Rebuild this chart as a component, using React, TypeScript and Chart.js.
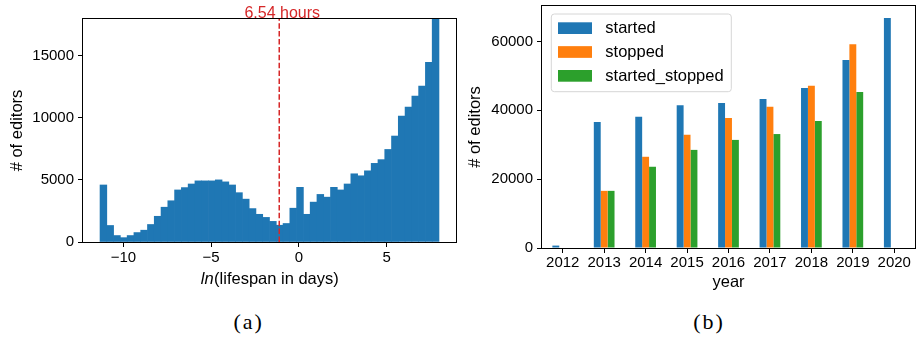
import React, { useEffect, useRef } from 'react';
import { Chart, registerables } from 'chart.js';

Chart.register(...registerables);

const FONT = '"Liberation Sans", Arial, Helvetica, sans-serif';

// ---------- Panel (a): histogram ----------
const histBinStart = -11.33;
const histBinWidth = 0.3862;
const histCounts = [
  4590, 1330, 520, 350, 520, 760, 950, 1410, 2070, 2800,
  3320, 4190, 4380, 4670, 4920, 4920, 4920, 5000, 4840, 4590,
  3970, 3450, 2690, 2230, 1980, 1660, 1350, 1490, 2720, 4400,
  2230, 3210, 3830, 3610, 4400, 4190, 4670, 5490, 5330, 5730,
  6330, 6630, 7450, 8530, 10140, 10870, 11740, 12550, 14460, 18200,
];
const histXTicks = [-10, -5, 0, 5];
const histYTicks = [0, 5000, 10000, 15000];
const histXMin = -12.3;
const histXMax = 8.95;
const histYMax = 17950;
const cutoffValue = -1.12;
const cutoffLabel = '6.54 hours';
const histYLabel = '# of editors';
const histXLabelItalic = 'ln';
const histXLabelRest = '(lifespan in days)';

// ---------- Panel (b): grouped bars ----------
const years = ['2012', '2013', '2014', '2015', '2016', '2017', '2018', '2019', '2020'];
const seriesNames = ['started', 'stopped', 'started_stopped'];
const seriesColors = ['#1f77b4', '#ff7f0e', '#2ca02c'];
const started = [700, 36600, 38100, 41500, 42100, 43300, 46500, 54600, 66800];
const stopped = [0, 16600, 26500, 32900, 37800, 41000, 47100, 59200, 0];
const startedStopped = [0, 16600, 23600, 28500, 31400, 33100, 36900, 45300, 0];
const barYTicks = [0, 20000, 40000, 60000];
const barYMax = 70300;
const barXLabel = 'year';
const barYLabel = '# of editors';

const fmtNum = (v: number) => (v < 0 ? '\u2212' + Math.abs(v) : String(v));

function axisBase(tickPad: number) {
  return {
    border: { display: false },
    grid: {
      drawOnChartArea: false,
      drawTicks: true,
      tickLength: 5,
      tickWidth: 1,
      tickColor: '#000',
      color: '#000',
      offset: false,
    },
    ticks: {
      color: '#000',
      font: { family: FONT, size: 15 },
      padding: tickPad,
      maxRotation: 0,
      minRotation: 0,
      autoSkip: false,
    },
  };
}

function zeroPad(s: any) {
  s.paddingTop = 0;
  s.paddingBottom = 0;
  s.paddingLeft = 0;
  s.paddingRight = 0;
}

const framePlugin = {
  id: 'frameBox',
  afterDatasetsDraw(chart: any) {
    const { ctx, chartArea: a } = chart;
    ctx.save();
    ctx.strokeStyle = '#000';
    ctx.lineWidth = 1;
    const l = Math.round(a.left) - 0.5;
    const t = Math.round(a.top) - 0.5;
    const r = Math.round(a.right) + 0.5;
    const b = Math.round(a.bottom) + 0.5;
    ctx.strokeRect(l, t, r - l, b - t);
    ctx.restore();
  },
};

function makeTitlesPlugin(yText: string, yX: number, drawX: (ctx: CanvasRenderingContext2D, cx: number) => void) {
  return {
    id: 'titles',
    afterDraw(chart: any) {
      const { ctx, chartArea: a } = chart;
      ctx.save();
      ctx.fillStyle = '#000';
      ctx.font = `16.5px ${FONT}`;
      ctx.textAlign = 'center';
      ctx.textBaseline = 'middle';
      ctx.translate(yX, (a.top + a.bottom) / 2);
      ctx.rotate(-Math.PI / 2);
      ctx.fillText(yText, 0, 0);
      ctx.restore();
      ctx.save();
      ctx.fillStyle = '#000';
      drawX(ctx, (a.left + a.right) / 2);
      ctx.restore();
    },
  };
}

const cutoffPlugin = {
  id: 'cutoff',
  afterDatasetsDraw(chart: any) {
    const { ctx, chartArea: a } = chart;
    const x = chart.scales.x.getPixelForValue(cutoffValue);
    ctx.save();
    ctx.strokeStyle = '#d62728';
    ctx.lineWidth = 1.5;
    ctx.setLineDash([5.5, 2.4]);
    ctx.beginPath();
    ctx.moveTo(x, a.bottom);
    ctx.lineTo(x, a.top);
    ctx.stroke();
    ctx.setLineDash([]);
    ctx.fillStyle = '#d62728';
    ctx.font = `16px ${FONT}`;
    ctx.textAlign = 'center';
    ctx.textBaseline = 'alphabetic';
    ctx.fillText(cutoffLabel, x + 3, a.top - 0.8);
    ctx.restore();
  },
};

const legendPlugin = {
  id: 'legendBox',
  afterDraw(chart: any) {
    const { ctx, chartArea: a } = chart;
    const x0 = a.left + 9.3;
    const y0 = a.top + 8;
    const w = 180;
    const h = 77.7;
    const r = 3;
    ctx.save();
    ctx.beginPath();
    ctx.moveTo(x0 + r, y0);
    ctx.lineTo(x0 + w - r, y0);
    ctx.arcTo(x0 + w, y0, x0 + w, y0 + r, r);
    ctx.lineTo(x0 + w, y0 + h - r);
    ctx.arcTo(x0 + w, y0 + h, x0 + w - r, y0 + h, r);
    ctx.lineTo(x0 + r, y0 + h);
    ctx.arcTo(x0, y0 + h, x0, y0 + h - r, r);
    ctx.lineTo(x0, y0 + r);
    ctx.arcTo(x0, y0, x0 + r, y0, r);
    ctx.closePath();
    ctx.fillStyle = 'rgba(255,255,255,0.8)';
    ctx.fill();
    ctx.strokeStyle = '#d6d6d6';
    ctx.lineWidth = 1;
    ctx.stroke();
    ctx.font = `16.5px ${FONT}`;
    ctx.textAlign = 'left';
    ctx.textBaseline = 'middle';
    chart.data.datasets.forEach((ds: any, i: number) => {
      const py = y0 + 8.3 + i * 23.85;
      ctx.fillStyle = ds.backgroundColor;
      ctx.fillRect(x0 + 6.7, py, 34, 11.7);
      ctx.fillStyle = '#000';
      ctx.fillText(ds.label, x0 + 54, py + 6.6);
    });
    ctx.restore();
  },
};

export default function App() {
  const refA = useRef<HTMLCanvasElement | null>(null);
  const refB = useRef<HTMLCanvasElement | null>(null);

  useEffect(() => {
    if (!refA.current || !refB.current) return;

    const histData = histCounts.map((c, i) => ({ x: histBinStart + (i + 0.5) * histBinWidth, y: c }));

    const axA = axisBase(2.3);
    const ayA = axisBase(4);
    const chartA = new Chart(refA.current, {
      type: 'bar',
      data: {
        datasets: [
          {
            data: histData as any,
            backgroundColor: '#1f77b4',
            borderWidth: 0,
            barPercentage: 1,
            categoryPercentage: 1,
          },
        ],
      },
      options: {
        responsive: false,
        animation: false,
        devicePixelRatio: 1,
        layout: { padding: { left: 0, top: 19, right: 9, bottom: 0 } },
        plugins: { legend: { display: false }, tooltip: { enabled: false } },
        scales: {
          x: {
            type: 'linear',
            min: histXMin,
            max: histXMax,
            offset: false,
            ...axA,
            ticks: { ...axA.ticks, callback: (v: any) => fmtNum(Number(v)) },
            afterBuildTicks: (s: any) => {
              s.ticks = histXTicks.map((v) => ({ value: v }));
            },
            afterFit: (s: any) => {
              s.height = 58;
              zeroPad(s);
            },
          } as any,
          y: {
            type: 'linear',
            min: 0,
            max: histYMax,
            ...ayA,
            ticks: { ...ayA.ticks, callback: (v: any) => fmtNum(Number(v)) },
            afterBuildTicks: (s: any) => {
              s.ticks = histYTicks.map((v) => ({ value: v }));
            },
            afterFit: (s: any) => {
              s.width = 83;
              zeroPad(s);
            },
          } as any,
        },
      },
      plugins: [
        cutoffPlugin,
        framePlugin,
        makeTitlesPlugin(histYLabel, 17.5, (ctx, cx) => {
          ctx.textBaseline = 'alphabetic';
          ctx.textAlign = 'left';
          ctx.font = `italic 16.5px ${FONT}`;
          const w1 = ctx.measureText(histXLabelItalic).width;
          ctx.font = `16.5px ${FONT}`;
          const w2 = ctx.measureText(histXLabelRest).width;
          const start = cx - (w1 + w2) / 2;
          ctx.font = `italic 16.5px ${FONT}`;
          ctx.fillText(histXLabelItalic, start, 283.5);
          ctx.font = `16.5px ${FONT}`;
          ctx.fillText(histXLabelRest, start + w1 + 0.5, 283.5);
        }),
      ],
    });

    const axB = axisBase(1);
    const ayB = axisBase(4);
    const seriesData = [started, stopped, startedStopped];
    const chartB = new Chart(refB.current, {
      type: 'bar',
      data: {
        labels: years,
        datasets: seriesNames.map((name, i) => ({
          label: name,
          data: seriesData[i],
          backgroundColor: seriesColors[i],
          borderWidth: 0,
          barPercentage: 1,
          categoryPercentage: 0.5,
        })),
      },
      options: {
        responsive: false,
        animation: false,
        devicePixelRatio: 1,
        layout: { padding: { left: 0, top: 6, right: 6, bottom: 0 } },
        plugins: { legend: { display: false }, tooltip: { enabled: false } },
        scales: {
          x: {
            type: 'category',
            offset: true,
            ...axB,
            afterFit: (s: any) => {
              s.height = 52;
              zeroPad(s);
            },
          } as any,
          y: {
            type: 'linear',
            min: 0,
            max: barYMax,
            ...ayB,
            ticks: { ...ayB.ticks, callback: (v: any) => String(v) },
            afterBuildTicks: (s: any) => {
              s.ticks = barYTicks.map((v) => ({ value: v }));
            },
            afterFit: (s: any) => {
              s.width = 77;
              zeroPad(s);
            },
          } as any,
        },
      },
      plugins: [
        framePlugin,
        legendPlugin,
        makeTitlesPlugin(barYLabel, 10, (ctx, cx) => {
          ctx.textBaseline = 'alphabetic';
          ctx.textAlign = 'center';
          ctx.font = `16.5px ${FONT}`;
          ctx.fillText(barXLabel, cx, 287);
        }),
      ],
    });

    return () => {
      chartA.destroy();
      chartB.destroy();
    };
  }, []);

  const captionStyle: React.CSSProperties = {
    position: 'absolute',
    top: 310.5,
    width: 200,
    textAlign: 'center',
    fontFamily: '"Liberation Serif", "Times New Roman", serif',
    fontSize: 22,
    lineHeight: '22px',
    letterSpacing: '2px',
    color: '#000',
  };

  return (
    <div
      style={{
        position: 'absolute',
        left: 0,
        top: 0,
        width: 921,
        height: 338,
        background: '#fff',
        overflow: 'hidden',
      }}
    >
      <canvas
        ref={refA}
        width={465}
        height={300}
        style={{ position: 'absolute', left: 0, top: 0, width: 465, height: 300, display: 'block' }}
      />
      <canvas
        ref={refB}
        width={456}
        height={300}
        style={{ position: 'absolute', left: 465, top: 0, width: 456, height: 300, display: 'block' }}
      />
      <div style={{ ...captionStyle, left: 148.7 }}>(a)</div>
      <div style={{ ...captionStyle, left: 609 }}>(b)</div>
    </div>
  );
}
